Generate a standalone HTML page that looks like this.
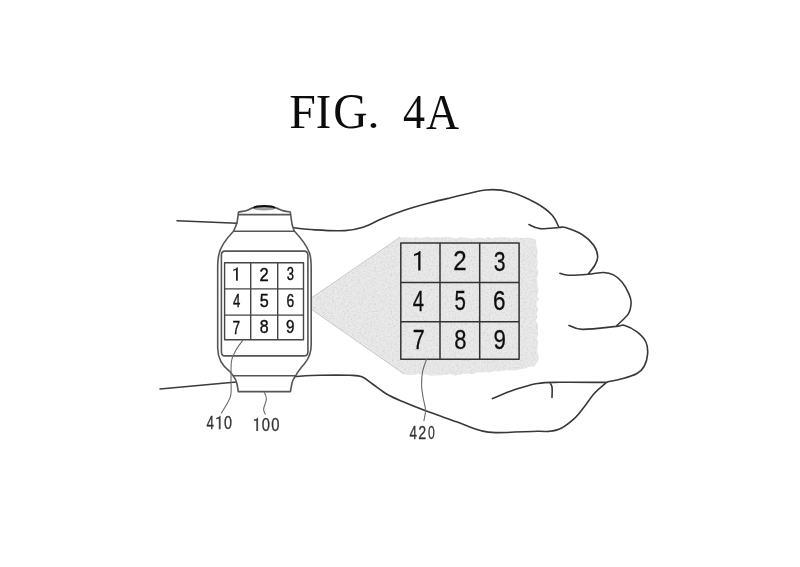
<!DOCTYPE html>
<html><head><meta charset="utf-8"><style>
html,body{margin:0;padding:0;background:#fff;}
body{width:800px;height:567px;overflow:hidden;position:relative;}
svg{position:absolute;left:0;top:0;}
</style></head><body>
<svg width="800" height="567" viewBox="0 0 800 567">
<defs><filter id="soft" x="0" y="0" width="800" height="567" filterUnits="userSpaceOnUse"><feGaussianBlur stdDeviation="0.35"/></filter></defs>
<g filter="url(#soft)">
<defs><clipPath id="shc"><path d="M312.0,297.5 L400.0,237.2 L404.0,237.5 L408.0,237.2 L412.0,238.0 L416.0,237.1 L420.0,237.9 L424.0,237.6 L428.0,237.1 L432.0,237.8 L436.0,237.1 L440.0,237.7 L444.0,237.1 L448.0,237.1 L452.0,237.7 L456.0,238.3 L460.0,237.2 L464.0,237.4 L468.0,238.0 L472.0,238.5 L476.0,237.9 L480.0,237.6 L484.0,238.6 L488.0,237.1 L492.0,238.4 L496.0,237.5 L500.0,237.2 L504.0,237.2 L508.0,237.5 L512.0,238.3 L516.0,237.3 L520.0,237.9 L524.0,238.0 L528.0,237.6 L532.0,237.9 L536.1,240.0 L536.1,243.5 L536.5,247.0 L537.9,250.5 L537.2,254.0 L536.8,257.5 L537.7,261.0 L537.3,264.5 L536.8,268.0 L538.3,271.5 L538.0,275.0 L536.6,278.5 L537.6,282.0 L537.5,285.5 L538.5,289.0 L538.1,292.5 L536.8,296.0 L538.8,299.5 L536.3,303.0 L537.2,306.5 L538.2,310.0 L536.4,313.5 L537.4,317.0 L536.0,320.5 L537.9,324.0 L538.2,327.5 L537.6,331.0 L538.5,334.5 L536.8,338.0 L538.0,341.5 L537.7,345.0 L537.6,348.5 L537.3,352.0 L538.4,355.5 L538.7,359.0 L537.3,362.5 L534.0,366.8 L529.5,366.4 L525.0,368.4 L520.5,369.0 L516.0,370.5 L511.7,370.6 L507.3,370.1 L503.0,370.8 L498.7,371.8 L494.3,371.0 L490.0,372.4 L485.6,372.1 L481.2,372.4 L476.9,372.6 L472.5,374.3 L468.1,373.3 L463.8,373.9 L459.4,374.5 L455.0,375.7 L450.8,374.1 L446.7,374.8 L442.5,375.0 L438.3,375.6 L434.2,375.5 L430.0,375.5 L425.7,374.2 L421.3,374.4 L417.0,374.1 L412.7,375.0 L408.3,375.0 L404.0,374.0 L312.0,309.8 Z"/></clipPath>
<filter id="noise" x="300" y="230" width="250" height="150" filterUnits="userSpaceOnUse"><feTurbulence type="fractalNoise" baseFrequency="0.55" numOctaves="2" seed="4" result="n"/><feColorMatrix type="matrix" values="0 0 0 0 0.6  0 0 0 0 0.6  0 0 0 0 0.6  1.6 0 0 0 -0.72"/></filter></defs>
<g clip-path="url(#shc)"><rect x="300" y="230" width="250" height="150" fill="#e9e9e9"/><rect x="300" y="230" width="250" height="150" filter="url(#noise)"/></g>
<path d="M312,297.5 L400,237.2 M312,309.8 L404,374" fill="none" stroke="#c4c4c4" stroke-width="0.9"/>
<g fill="none" stroke-linecap="round" stroke-linejoin="round">
<path d="M293.5,227.8 C297.1,228.2 306.4,229.4 315.0,229.9 C323.6,230.4 337.0,231.0 345.0,230.6 C353.0,230.2 356.8,229.3 363.0,227.3 C369.2,225.3 375.5,221.4 382.5,218.5 C389.5,215.6 397.1,212.6 405.0,210.0 C412.9,207.4 422.5,204.8 430.0,202.8 C437.5,200.8 440.7,200.1 450.0,198.0 C459.3,195.9 476.0,191.0 486.0,190.0 C496.0,189.0 501.7,189.8 510.0,192.0 C518.3,194.2 529.0,199.2 536.0,203.0 C543.0,206.8 548.2,210.9 552.0,215.0 C555.8,219.1 557.8,225.4 559.0,227.5 M529.0,224.6 C530.8,225.3 535.0,228.1 540.0,228.6 C545.0,229.1 554.8,227.7 559.0,227.5 C563.2,227.3 561.6,226.4 565.5,227.6 C569.4,228.8 577.7,231.8 582.4,234.7 C587.1,237.6 591.2,241.7 593.7,245.3 C596.2,248.9 597.5,253.2 597.7,256.5 C597.9,259.8 596.6,262.1 595.0,265.0 C593.4,267.9 589.2,272.7 588.0,274.2 M559.9,273.2 C561.3,273.5 563.6,275.0 568.3,275.2 C573.0,275.4 582.1,274.8 588.0,274.3 C593.9,273.9 599.4,272.4 603.6,272.5 C607.9,272.6 610.4,273.3 613.5,274.9 C616.6,276.5 619.4,278.8 622.0,282.0 C624.6,285.2 627.5,290.7 629.0,294.1 C630.5,297.5 631.2,299.3 631.1,302.6 C631.0,305.9 630.8,310.0 628.3,313.9 C625.8,317.8 618.3,324.0 616.3,326.0 M569.0,325.4 C571.2,326.1 574.5,329.2 582.4,329.4 C590.3,329.6 609.2,327.1 616.3,326.4 C623.4,325.7 621.3,324.4 624.8,325.4 C628.3,326.4 633.9,329.4 637.4,332.2 C640.9,335.0 644.2,338.4 645.9,342.0 C647.6,345.6 647.9,350.0 647.6,354.1 C647.3,358.2 645.9,363.3 644.1,366.5 C642.3,369.7 640.5,371.5 637.0,373.5 C633.5,375.5 628.0,377.1 623.0,378.5 C618.0,379.9 609.7,381.4 607.0,382.0 M492.5,398.6 C496.2,397.1 507.5,392.1 515.0,389.6 C522.5,387.1 530.0,384.7 537.5,383.5 C545.0,382.3 548.4,382.5 560.0,382.3 C571.6,382.1 599.2,382.4 607.0,382.4 M549.7,382.4 C550.1,383.2 551.6,384.5 552.0,387.0 C552.4,389.5 552.0,395.7 552.0,397.4 M607.0,382.0 C605.0,383.8 598.5,388.8 594.7,393.0 C590.9,397.2 587.3,402.9 584.1,407.0 C580.9,411.1 579.1,414.1 575.3,417.6 C571.5,421.1 565.6,425.9 561.2,428.2 C556.8,430.5 552.8,430.9 548.8,431.4 C544.8,431.9 546.1,431.0 537.5,431.2 C528.9,431.4 506.4,432.7 497.0,432.6 C487.6,432.5 488.1,432.6 481.3,430.8 C474.6,429.0 465.9,425.2 456.5,421.8 C447.1,418.4 434.0,413.9 425.0,410.5 C416.0,407.1 408.8,404.2 402.5,401.5 C396.2,398.8 392.5,397.4 387.5,394.5 C382.5,391.6 376.8,386.9 372.5,384.0 C368.2,381.1 365.8,378.2 362.0,376.8 C358.2,375.4 357.0,375.6 350.0,375.3 C343.0,375.1 329.2,375.1 320.0,375.3 C310.8,375.5 298.8,376.3 294.5,376.5" stroke="#383838" stroke-width="1.6"/>
<path d="M177.0,220.8 L237.0,223.3 M160.0,389.0 L236.3,381.9" stroke="#3a3a3a" stroke-width="1.5"/>
<path d="M238.5,212 C242,211.5 246,211 248,210 C250,209 252,207.8 254,207.6 L274.5,207.6 C276.5,207.8 279,209 281,210 C283,211 287,211.5 290.3,212 M238.5,214.6 L290.5,214.6 M238.5,212 C238,216 237.5,221 236.7,223.5 C236,226 234.5,229 233.5,231.3 M290.3,212 C290.8,216 291.5,221 292,224 C292.5,227 293.5,229 294.5,231.3 M233.5,231.3 L294.5,231.3 M233.5,231.3 C228,237 221,245 219,254 C218,258 217.7,262 217.7,268 L217.7,348 C217.7,356 221,365 229.9,371.7 C231,373 232.5,374.5 233,375.8 M294.5,231.3 C299,236 306,244 309.5,253 C310.8,257 311.2,262 311.2,268 L311.2,345 C311.2,352 309,358 305,363 C302,367 298,371 295.7,375.8 M233,375.8 L295.7,375.8 M233,375.8 C235,378 236.5,381 237,384 C237.5,387 238,389.5 238.3,391.6 M295.7,375.8 C294,378 292.5,380 292,383 C291.5,386 290.8,389 290.4,391.6 M238.3,391.6 L290.4,391.6" stroke="#555" stroke-width="1.6"/>
<path d="M221.4,255 Q221.4,251.1 225,251.1 L304,251.1 Q307.9,251.1 307.9,255 L307.9,352 Q307.9,355.9 304,355.9 L225,355.9 Q221.4,355.9 221.4,352 Z" stroke="#555" stroke-width="1.6"/>
<path d="M224.6,262.75 H303.5 V339.7 H224.6 Z M250.7,262.75 V339.7 M277.7,262.75 V339.7 M224.6,288.9 H303.5 M224.6,315.1 H303.5" stroke="#444" stroke-width="1.4"/>
<path d="M400.8,243 H519.1 V359.2 H400.8 Z M440,243 V359.2 M479.7,243 V359.2 M400.8,282.5 H519.1 M400.8,321.8 H519.1" stroke="#333" stroke-width="1.5"/>
<path d="M243.0,340.0 C241.8,341.8 237.6,347.1 235.7,350.6 C233.8,354.1 232.3,356.1 231.5,361.0 C230.7,365.9 231.2,374.1 231.0,380.0 C230.8,385.9 232.0,391.2 230.4,396.7 C228.8,402.2 222.9,410.3 221.4,413.0 M264.2,392.0 C264.6,393.2 266.5,396.2 266.4,399.0 C266.3,401.8 263.8,406.5 263.6,409.0 C263.4,411.5 265.0,413.3 265.3,414.2 M426.6,359.0 C425.9,361.2 423.3,367.5 422.5,372.0 C421.7,376.5 421.5,381.7 421.6,386.0 C421.7,390.3 422.6,394.0 423.2,398.0 C423.8,402.0 425.4,406.2 425.5,410.0 C425.6,413.8 424.2,418.8 423.9,420.6" stroke="#6a6a6a" stroke-width="1.1"/>
</g>
<ellipse cx="264.2" cy="208.4" rx="10" ry="1.7" fill="#a0a0a0" stroke="#666" stroke-width="0.5"/><path d="M253.6,207.9 C256,205.4 272.4,205.4 274.8,207.9" fill="none" stroke="#111" stroke-width="2.1"/>
<text transform="translate(259.57,280.90) scale(0.1663,0.1829)" font-family="Liberation Sans" font-size="100" fill="#111" stroke="#111" stroke-width="2.19">2</text>
<text transform="translate(286.68,280.43) scale(0.1298,0.1746)" font-family="Liberation Sans" font-size="100" fill="#111" stroke="#111" stroke-width="2.29">3</text>
<text transform="translate(232.94,306.99) scale(0.1314,0.1868)" font-family="Liberation Sans" font-size="100" fill="#111" stroke="#111" stroke-width="2.14">4</text>
<text transform="translate(259.75,306.72) scale(0.1617,0.1821)" font-family="Liberation Sans" font-size="100" fill="#111" stroke="#111" stroke-width="2.20">5</text>
<text transform="translate(286.50,306.62) scale(0.1391,0.1789)" font-family="Liberation Sans" font-size="100" fill="#111" stroke="#111" stroke-width="2.24">6</text>
<text transform="translate(232.52,333.68) scale(0.1370,0.1824)" font-family="Liberation Sans" font-size="100" fill="#111" stroke="#111" stroke-width="2.19">7</text>
<text transform="translate(259.86,333.42) scale(0.1596,0.1789)" font-family="Liberation Sans" font-size="100" fill="#111" stroke="#111" stroke-width="2.24">8</text>
<text transform="translate(286.04,333.42) scale(0.1522,0.1789)" font-family="Liberation Sans" font-size="100" fill="#111" stroke="#111" stroke-width="2.24">9</text>
<text transform="translate(453.24,270.30) scale(0.2413,0.2764)" font-family="Liberation Sans" font-size="100" fill="#111" stroke="#111" stroke-width="1.09">2</text>
<text transform="translate(493.70,270.67) scale(0.2128,0.2810)" font-family="Liberation Sans" font-size="100" fill="#111" stroke="#111" stroke-width="1.07">3</text>
<text transform="translate(412.79,310.60) scale(0.2029,0.2956)" font-family="Liberation Sans" font-size="100" fill="#111" stroke="#111" stroke-width="1.01">4</text>
<text transform="translate(454.38,310.02) scale(0.2043,0.2764)" font-family="Liberation Sans" font-size="100" fill="#111" stroke="#111" stroke-width="1.09">5</text>
<text transform="translate(493.07,310.02) scale(0.2250,0.2831)" font-family="Liberation Sans" font-size="100" fill="#111" stroke="#111" stroke-width="1.06">6</text>
<text transform="translate(412.87,349.33) scale(0.2152,0.2779)" font-family="Liberation Sans" font-size="100" fill="#111" stroke="#111" stroke-width="1.08">7</text>
<text transform="translate(454.32,348.98) scale(0.2202,0.2683)" font-family="Liberation Sans" font-size="100" fill="#111" stroke="#111" stroke-width="1.12">8</text>
<text transform="translate(493.53,348.93) scale(0.2239,0.2683)" font-family="Liberation Sans" font-size="100" fill="#111" stroke="#111" stroke-width="1.12">9</text>
<path d="M236.00,280.80 L236.00,270.08 C233.84,270.88 234.10,270.23 233.20,271.20 L233.20,269.58 C235.90,268.61 236.54,268.28 236.90,267.20 L237.80,267.20 L237.80,280.80 Z" fill="#222"/>
<path d="M418.20,270.60 L418.20,254.68 C415.44,255.79 415.15,254.96 414.00,256.20 L414.00,254.13 C417.45,252.89 418.89,252.38 419.35,251.00 L420.50,251.00 L420.50,270.60 Z" fill="#111"/>
<text transform="translate(206.38,429.24) scale(0.1353,0.1926)" font-family="Liberation Sans" font-size="100" fill="#333" stroke="#333" stroke-width="1.56">4</text>
<path d="M218.80,429.30 L218.80,418.68 C216.64,419.28 217.10,418.63 216.20,419.60 L216.20,417.98 C218.90,417.01 219.34,416.88 219.70,415.80 L220.60,415.80 L220.60,429.30 Z" fill="#444"/>
<text transform="translate(224.08,429.17) scale(0.1437,0.1817)" font-family="Liberation Sans" font-size="100" fill="#333" stroke="#333" stroke-width="1.65">0</text>
<path d="M256.30,431.00 L256.30,420.68 C254.14,420.88 254.90,420.23 254.00,421.20 L254.00,419.58 C256.70,418.61 256.84,418.88 257.20,417.80 L258.10,417.80 L258.10,431.00 Z" fill="#444"/>
<text transform="translate(261.86,430.57) scale(0.1479,0.1803)" font-family="Liberation Sans" font-size="100" fill="#333" stroke="#333" stroke-width="1.66">0</text>
<text transform="translate(271.36,430.57) scale(0.1479,0.1803)" font-family="Liberation Sans" font-size="100" fill="#333" stroke="#333" stroke-width="1.66">0</text>
<text transform="translate(409.43,439.49) scale(0.1343,0.1926)" font-family="Liberation Sans" font-size="100" fill="#333" stroke="#333" stroke-width="1.56">4</text>
<text transform="translate(418.23,439.30) scale(0.1435,0.1907)" font-family="Liberation Sans" font-size="100" fill="#333" stroke="#333" stroke-width="1.57">2</text>
<text transform="translate(427.96,439.36) scale(0.1219,0.1915)" font-family="Liberation Sans" font-size="100" fill="#333" stroke="#333" stroke-width="1.57">0</text>
<text transform="translate(289.37,128.30) scale(0.4776,0.4938)" font-family="Liberation Serif" font-size="100" fill="#111">F</text>
<text transform="translate(315.84,128.30) scale(0.4654,0.4938)" font-family="Liberation Serif" font-size="100" fill="#111">I</text>
<text transform="translate(333.30,128.01) scale(0.4746,0.4970)" font-family="Liberation Serif" font-size="100" fill="#111">G</text>
<text transform="translate(367.46,128.38) scale(0.4773,0.4167)" font-family="Liberation Serif" font-size="100" fill="#111">.</text>
<text transform="translate(403.07,128.30) scale(0.4402,0.4938)" font-family="Liberation Serif" font-size="100" fill="#111">4</text>
<text transform="translate(425.99,128.80) scale(0.4586,0.5015)" font-family="Liberation Serif" font-size="100" fill="#111">A</text>
</g>
</svg>
</body></html>
